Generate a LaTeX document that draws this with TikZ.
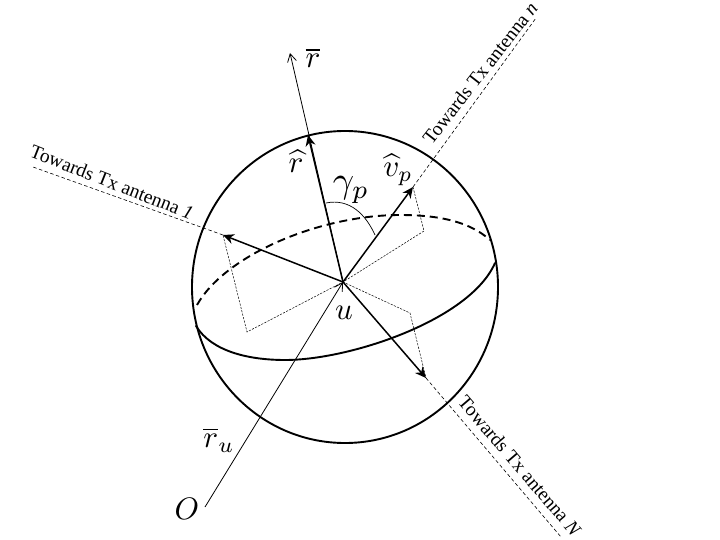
\documentclass[tikz,border=0pt]{standalone}
\usepackage{fontspec}
\setmainfont{Liberation Serif}
\usetikzlibrary{arrows.meta}
\tikzset{
  sphereline/.style={line width=1.9pt},
  eqdash/.style={line width=1.9pt,dash pattern=on 8pt off 5pt},
  vecthick/.style={line width=1.5pt,-{Stealth[length=11pt,width=10pt]}},
  vecthin/.style={line width=0.8pt,-{Straight Barb[length=8pt,width=9pt]}},
  towards/.style={line width=0.6pt,dash pattern=on 3.5pt off 2.5pt},
  proj/.style={line width=0.5pt,dash pattern=on 2.2pt off 1.3pt},
  txlabel/.style={font=\fontsize{19.5}{19.5}\selectfont,inner sep=0pt},
  mathlabel/.style={font=\fontsize{10}{10}\selectfont,inner sep=0pt,scale=3.1}
}
\begin{document}
\begin{tikzpicture}[x=1pt,y=-1pt]
\useasboundingbox (0,0) rectangle (720,540);
\coordinate (u) at (343,282);
\coordinate (rhat) at (308,135);
\coordinate (rbar) at (290,53);
\coordinate (vhat) at (413,187);
\coordinate (one) at (223,235);
\coordinate (capn) at (426,378);
\coordinate (O) at (205,507);
\coordinate (endone) at (33,167);
\coordinate (endn) at (536,18);
\coordinate (endN) at (561,537);
\coordinate (p1) at (424,231);
\coordinate (p2) at (247,332);
\coordinate (p3) at (410,313);
\coordinate (a1) at (326,203);
\coordinate (a2) at (375,235);
% sphere
\draw[sphereline] (345,287) ellipse [x radius=153, y radius=156];
% equator
\draw[sphereline,line cap=round] (196,326) .. controls (212,352) and (250,360) .. (285,360)
  .. controls (350,360) and (470,320) .. (495,263);
\draw[eqdash] (197,305) .. controls (225,255) and (320,215) .. (400,215)
  .. controls (440,215) and (470,222) .. (490,240);
% dashed lines toward antennas
\draw[towards] (one) -- (endone);
\draw[towards] (vhat) -- (endn);
\draw[towards] (capn) -- (endN);
% projections
\draw[proj] (vhat) -- (p1) -- (u) -- (p2) -- (one);
\draw[proj] (u) -- (p3) -- (capn);
% vectors
\draw[vecthin] (u) -- (rbar);
\draw[vecthin] (O) -- (u);
\draw[vecthick] (u) -- (rhat);
\draw[vecthick] (u) -- (vhat);
\draw[vecthick] (u) -- (one);
\draw[vecthick] (u) -- (capn);
% angle
\draw[line width=0.7pt] (a1) .. controls (350,198) and (366,215) .. (a2);
% labels
\node[mathlabel] (lrbar) at (313,58) {$\overline{r}$};
\node[mathlabel] (lrhat) at (296,161) {$\widehat{r}$};
\node[mathlabel] (lvhat) at (398,170) {$\widehat{v}_{p}$};
\node[mathlabel,scale=1.2] (lgamma) at (351,190) {$\gamma_{p}$};
\node[mathlabel] (lu) at (344,313) {$u$};
\node[mathlabel] (lru) at (219,440) {$\overline{r}_{u}$};
\node[mathlabel] (lO) at (187,509) {$O$};
\node[txlabel,rotate=-21.5] (t1) at (112,182) {Towards Tx antenna \textit{1}};
\node[txlabel,rotate=52] (tn) at (480,73) {Towards Tx antenna \textit{n}};
\node[txlabel,rotate=-49.4] (tN) at (520,466) {Towards Tx antenna \textit{N}};
\end{tikzpicture}
\end{document}
